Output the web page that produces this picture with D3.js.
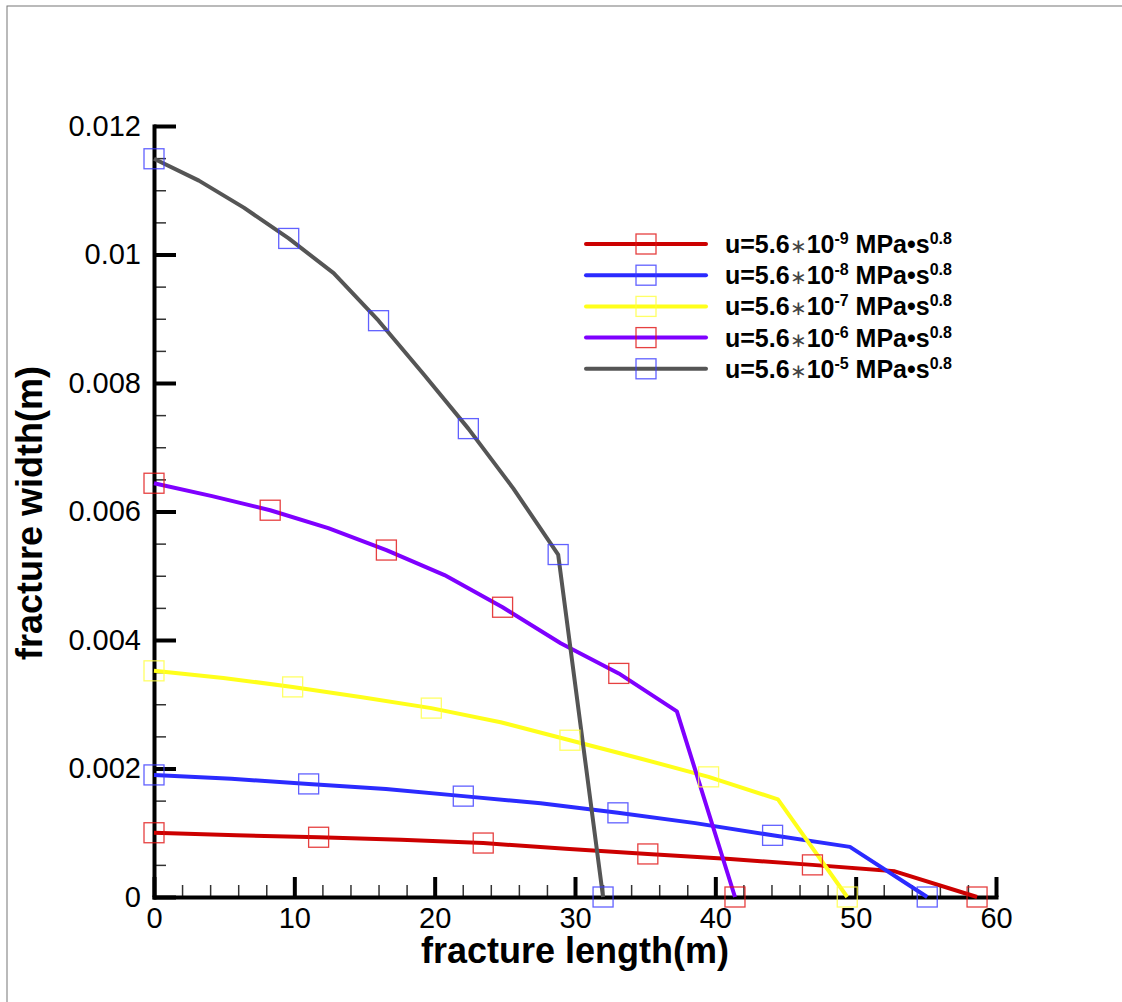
<!DOCTYPE html>
<html>
<head>
<meta charset="utf-8">
<script src="https://d3js.org/d3.v7.min.js"></script>
<style>
    body { margin: 0; background: #fff; }
    svg { display: block; }
    .tick text { font-family: "Liberation Sans", Arial, sans-serif; font-size: 29px; fill: #000; }
    .title { font-family: "Liberation Sans", Arial, sans-serif; font-size: 36px; font-weight: bold; fill: #000; }
    .legend text { font-family: "Liberation Sans", Arial, sans-serif; font-size: 25px; font-weight: bold; fill: #000; }
</style>
</head>
<body>
<script>
// series: fracture length (m) and fracture width (m)
var seriesNames = ["-9", "-8", "-7", "-6", "-5"];

var x9 = [0, 5.87, 11.73, 17.6, 23.46, 29.33, 35.19, 41.06, 46.92, 52.79, 58.65];
var w9 = [0.001, 0.00096, 0.00093, 0.00089, 0.00084, 0.00075, 0.00067, 0.00059, 0.0005, 0.0004, 0];

var x8 = [0, 5.51, 11.02, 16.53, 22.04, 27.55, 33.06, 38.57, 44.08, 49.59, 55.1];
var w8 = [0.0019, 0.00184, 0.00176, 0.00168, 0.00157, 0.00146, 0.00131, 0.00115, 0.00096, 0.00078, 0];

var x7 = [0, 4.94, 9.88, 14.82, 19.76, 24.7, 29.64, 34.58, 39.52, 44.46, 49.4];
var w7 = [0.00352, 0.00341, 0.00327, 0.00311, 0.00294, 0.00272, 0.00244, 0.00216, 0.00187, 0.00152, 0];

var x6 = [0, 4.14, 8.28, 12.42, 16.56, 20.7, 24.84, 28.98, 33.12, 37.26, 41.4];
var w6 = [0.00644, 0.00624, 0.00602, 0.00574, 0.0054, 0.00501, 0.00451, 0.00395, 0.00348, 0.00289, 0];

var x5 = [0, 3.2, 6.4, 9.6, 12.8, 16, 19.2, 22.4, 25.6, 28.8, 32];
var w5 = [0.01149, 0.01115, 0.01073, 0.01025, 0.00971, 0.00897, 0.00814, 0.00729, 0.00636, 0.00533, 0];

// which points carry a symbol
var sym9 = [0, 2, 4, 6, 8, 10];
var sym8 = [0, 2, 4, 6, 8, 10];
var sym7 = [0, 2, 4, 6, 8, 10];
var sym6 = [0, 2, 4, 6, 8, 10];
var sym5 = [0, 3, 5, 7, 9, 10];

var xTicks = [0, 10, 20, 30, 40, 50, 60];
var xTickLabels = ["0", "10", "20", "30", "40", "50", "60"];
var yTicks = [0, 0.002, 0.004, 0.006, 0.008, 0.01, 0.012];
var yTickLabels = ["0", "0.002", "0.004", "0.006", "0.008", "0.01", "0.012"];

var lineColors = ["#cc0000", "#2b2bff", "#ffff1a", "#7f00ff", "#555555"];
var symColors = ["#e01010", "#3a3aff", "#ffff40", "#e01010", "#3a3aff"];

var xs = [x9, x8, x7, x6, x5];
var ws = [w9, w8, w7, w6, w5];
var syms = [sym9, sym8, sym7, sym6, sym5];

var width = 1122, height = 1002;
var svg = d3.select("body").append("svg").attr("width", width).attr("height", height);

// outer frame
svg.append("rect").attr("x", 7).attr("y", 6).attr("width", 1300).attr("height", 1200)
    .attr("fill", "none").attr("stroke", "#777").attr("stroke-width", 1);

var x = d3.scaleLinear().domain([0, 60]).range([154, 996]);
var y = d3.scaleLinear().domain([0, 0.012]).range([897, 126]);

// minor ticks
var xMinor = svg.append("g").attr("transform", "translate(0,897)")
    .call(d3.axisBottom(x).ticks(30).tickSizeInner(-12).tickSizeOuter(0).tickFormat(""));
xMinor.select(".domain").remove();
xMinor.selectAll("line").attr("stroke", "#333").attr("stroke-width", 1.5);

var yMinor = svg.append("g").attr("transform", "translate(154,0)")
    .call(d3.axisLeft(y).ticks(24).tickSizeInner(-12).tickSizeOuter(0).tickFormat(""));
yMinor.select(".domain").remove();
yMinor.selectAll("line").attr("stroke", "#333").attr("stroke-width", 1.5);

// major ticks
var xAxis = svg.append("g").attr("transform", "translate(0,897)")
    .call(d3.axisBottom(x).tickValues(xTicks).tickSizeInner(-20).tickSizeOuter(0).tickPadding(10)
        .tickFormat(function (d, i) { return xTickLabels[i]; }));
xAxis.select(".domain").attr("stroke", "#000").attr("stroke-width", 4).attr("stroke-linecap", "square");
xAxis.selectAll("line").attr("stroke", "#000").attr("stroke-width", 4);

var yAxis = svg.append("g").attr("transform", "translate(154,0)")
    .call(d3.axisLeft(y).tickValues(yTicks).tickSizeInner(-22).tickSizeOuter(0).tickPadding(13)
        .tickFormat(function (d, i) { return yTickLabels[i]; }));
yAxis.select(".domain").attr("stroke", "#000").attr("stroke-width", 4).attr("stroke-linecap", "square");
yAxis.selectAll("line").attr("stroke", "#000").attr("stroke-width", 4);
svg.selectAll(".tick text").attr("font-family", null).attr("font-size", null);

// axis titles
svg.append("text").attr("class", "title")
    .attr("x", 575).attr("y", 963).attr("text-anchor", "middle")
    .text("fracture length(m)");
svg.append("text").attr("class", "title")
    .attr("transform", "translate(42,513) rotate(-90)").attr("text-anchor", "middle")
    .text("fracture width(m)");

// lines
var line = d3.line().x(function (d) { return x(d[0]); }).y(function (d) { return y(d[1]); });

xs.forEach(function (xv, k) {
    var pts = xv.map(function (v, i) { return [v, ws[k][i]]; });
    svg.append("path").datum(pts)
        .attr("d", line)
        .attr("fill", "none")
        .attr("stroke", lineColors[k])
        .attr("stroke-width", 4)
        .attr("stroke-linejoin", "round");
});

// symbols
xs.forEach(function (xv, k) {
    svg.append("g").selectAll("rect")
        .data(syms[k])
        .enter().append("rect")
        .attr("x", function (i) { return x(xv[i]) - 10; })
        .attr("y", function (i) { return y(ws[k][i]) - 10; })
        .attr("width", 20).attr("height", 20)
        .attr("fill", "none")
        .attr("stroke", symColors[k])
        .attr("stroke-opacity", 0.8)
        .attr("stroke-width", 1.3);
});

// legend
var legend = svg.append("g").attr("class", "legend");
seriesNames.forEach(function (name, k) {
    var ly = 244 + k * 31.2;
    legend.append("line")
        .attr("x1", 586).attr("x2", 706).attr("y1", ly).attr("y2", ly)
        .attr("stroke", lineColors[k]).attr("stroke-width", 4).attr("stroke-linecap", "round");
    legend.append("rect")
        .attr("x", 636).attr("y", ly - 10).attr("width", 20).attr("height", 20)
        .attr("fill", "none").attr("stroke", symColors[k]).attr("stroke-opacity", 0.8).attr("stroke-width", 1.3);
    var t = legend.append("text").attr("x", 725).attr("y", ly + 9);
    t.append("tspan").text("u=5.6");
    t.append("tspan").attr("font-weight", "normal").attr("font-size", "20px").attr("fill", "#444").text("\u2217");
    t.append("tspan").text("10");
    t.append("tspan").attr("font-size", "16px").attr("dy", -9).text(name);
    t.append("tspan").attr("dy", 9).text(" MPa\u2022s");
    t.append("tspan").attr("font-size", "16px").attr("dy", -9).text("0.8");
});
</script>
</body>
</html>
